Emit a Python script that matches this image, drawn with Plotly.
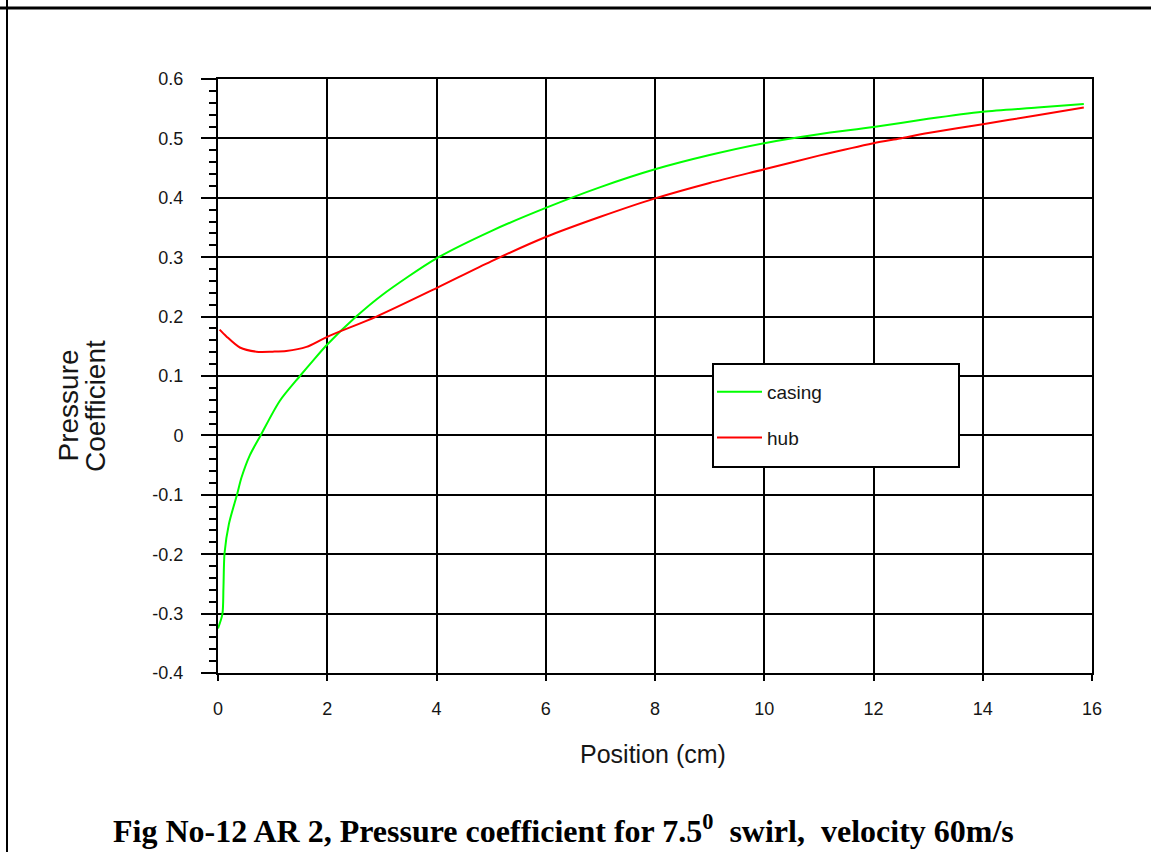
import plotly.graph_objects as go

# Pressure coefficient along the diffuser wall, AR 2, 7.5 deg swirl, 60 m/s
casing_x = [0.0, 0.08, 0.10, 0.12, 0.20, 0.35, 0.43, 0.58, 0.78, 1.13, 1.5, 1.74,
            2.0, 2.53, 3.0, 4.0, 5.0, 6.0, 7.0, 8.0, 9.0, 10.0, 11.0, 12.0,
            13.0, 14.0, 15.0, 15.85]
casing_cp = [-0.325, -0.301, -0.256, -0.198, -0.149, -0.099, -0.071, -0.034, 0.0,
             0.058, 0.100, 0.126, 0.153, 0.200, 0.236, 0.298, 0.344, 0.383, 0.418,
             0.448, 0.472, 0.492, 0.507, 0.519, 0.533, 0.545, 0.552, 0.558]

hub_x = [0.03, 0.15, 0.4, 0.7, 1.0, 1.25, 1.62, 2.0, 2.9, 4.0, 5.0, 6.0, 7.0, 8.0,
         9.0, 10.0, 11.0, 12.0, 12.48, 13.0, 14.0, 15.0, 15.85]
hub_cp = [0.178, 0.167, 0.148, 0.141, 0.141, 0.142, 0.149, 0.166, 0.200, 0.248,
          0.293, 0.334, 0.368, 0.399, 0.425, 0.448, 0.471, 0.492, 0.500, 0.509,
          0.524, 0.539, 0.552]

x_ticks = [0, 2, 4, 6, 8, 10, 12, 14, 16]
y_ticks = [-0.4, -0.3, -0.2, -0.1, 0, 0.1, 0.2, 0.3, 0.4, 0.5, 0.6]
y_tick_text = ["-0.4", "-0.3", "-0.2", "-0.1", "0", "0.1", "0.2", "0.3", "0.4", "0.5", "0.6"]

SANS = "Liberation Sans, Arial, sans-serif"
SERIF = "Liberation Serif, Times New Roman, serif"
INK = "#161616"

fig = go.Figure()
fig.add_trace(go.Scatter(x=casing_x, y=casing_cp, mode="lines", name="casing",
                         line=dict(color="#00ff00", width=2, shape="spline", smoothing=0.8),
                         legendgroup="casing"))
fig.add_trace(go.Scatter(x=hub_x, y=hub_cp, mode="lines", name="hub",
                         line=dict(color="#ff0000", width=2, shape="spline", smoothing=0.8),
                         legendgroup="hub"))

fig.update_xaxes(
    range=[0, 16], tickvals=x_ticks, showgrid=True, gridcolor="black", gridwidth=2,
    zeroline=False, showline=True, linecolor="black", linewidth=2, mirror=True,
    ticks="outside", ticklen=6, tickwidth=2, tickcolor="black",
    tickfont=dict(family=SANS, size=18, color=INK), ticklabelstandoff=12,
)
fig.update_yaxes(
    range=[-0.4, 0.6], tickvals=y_ticks, ticktext=y_tick_text, showgrid=True,
    gridcolor="black", gridwidth=2, zeroline=False, showline=True, linecolor="black",
    linewidth=2, mirror=True, ticks="outside", ticklen=15, tickwidth=2, tickcolor="black",
    tickfont=dict(family=SANS, size=18, color=INK), ticklabelstandoff=14,
    minor=dict(dtick=0.02, ticks="outside", ticklen=7, tickwidth=2, tickcolor="black",
               showgrid=False),
)

# legend frame
fig.add_shape(type="rect", xref="paper", yref="paper",
              x0=(713 - 218) / 874, x1=(959 - 218) / 874,
              y0=(673 - 467) / 594, y1=(673 - 364) / 594,
              line=dict(color="black", width=2), fillcolor="white", layer="above")

annos = [
    dict(text="Position (cm)", x=(653 - 218) / 874, y=(673 - 754) / 594,
         font=dict(family=SANS, size=25, color=INK)),
    dict(text="Pressure", x=(67.5 - 218) / 874, y=(673 - 406) / 594, textangle=-90,
         font=dict(family=SANS, size=28, color=INK)),
    dict(text="Coefficient", x=(95 - 218) / 874, y=(673 - 406) / 594, textangle=-90,
         font=dict(family=SANS, size=28, color=INK)),
    dict(text="<b>Fig No-12 AR 2, Pressure coefficient for 7.5<sup>0</sup>\u00a0\u00a0swirl,\u00a0\u00a0velocity 60m/s</b>",
         x=(563.5 - 218) / 874, y=(673 - 829) / 594,
         font=dict(family=SERIF, size=32, color="black")),
]
for a in annos:
    fig.add_annotation(xref="paper", yref="paper", showarrow=False,
                       xanchor="center", yanchor="middle", **a)

# page frame lines
fig.add_shape(type="line", xref="paper", yref="paper",
              x0=(0 - 218) / 874, x1=(1151 - 218) / 874,
              y0=(673 - 8) / 594, y1=(673 - 8) / 594,
              line=dict(color="black", width=3))
fig.add_shape(type="line", xref="paper", yref="paper",
              x0=(7 - 218) / 874, x1=(7 - 218) / 874,
              y0=(673 - 0) / 594, y1=(673 - 852) / 594,
              line=dict(color="black", width=2))

fig.update_layout(
    width=1151, height=852, autosize=False,
    margin=dict(l=218, r=59, t=79, b=179),
    paper_bgcolor="white", plot_bgcolor="white",
    showlegend=True,
    legend=dict(x=(712 - 218) / 874, y=(673 - 373) / 594, xanchor="left", yanchor="top",
                bgcolor="rgba(0,0,0,0)", borderwidth=0, tracegroupgap=18, itemwidth=45,
                font=dict(family=SANS, size=19, color=INK)),
)

fig.write_html("out.html")
